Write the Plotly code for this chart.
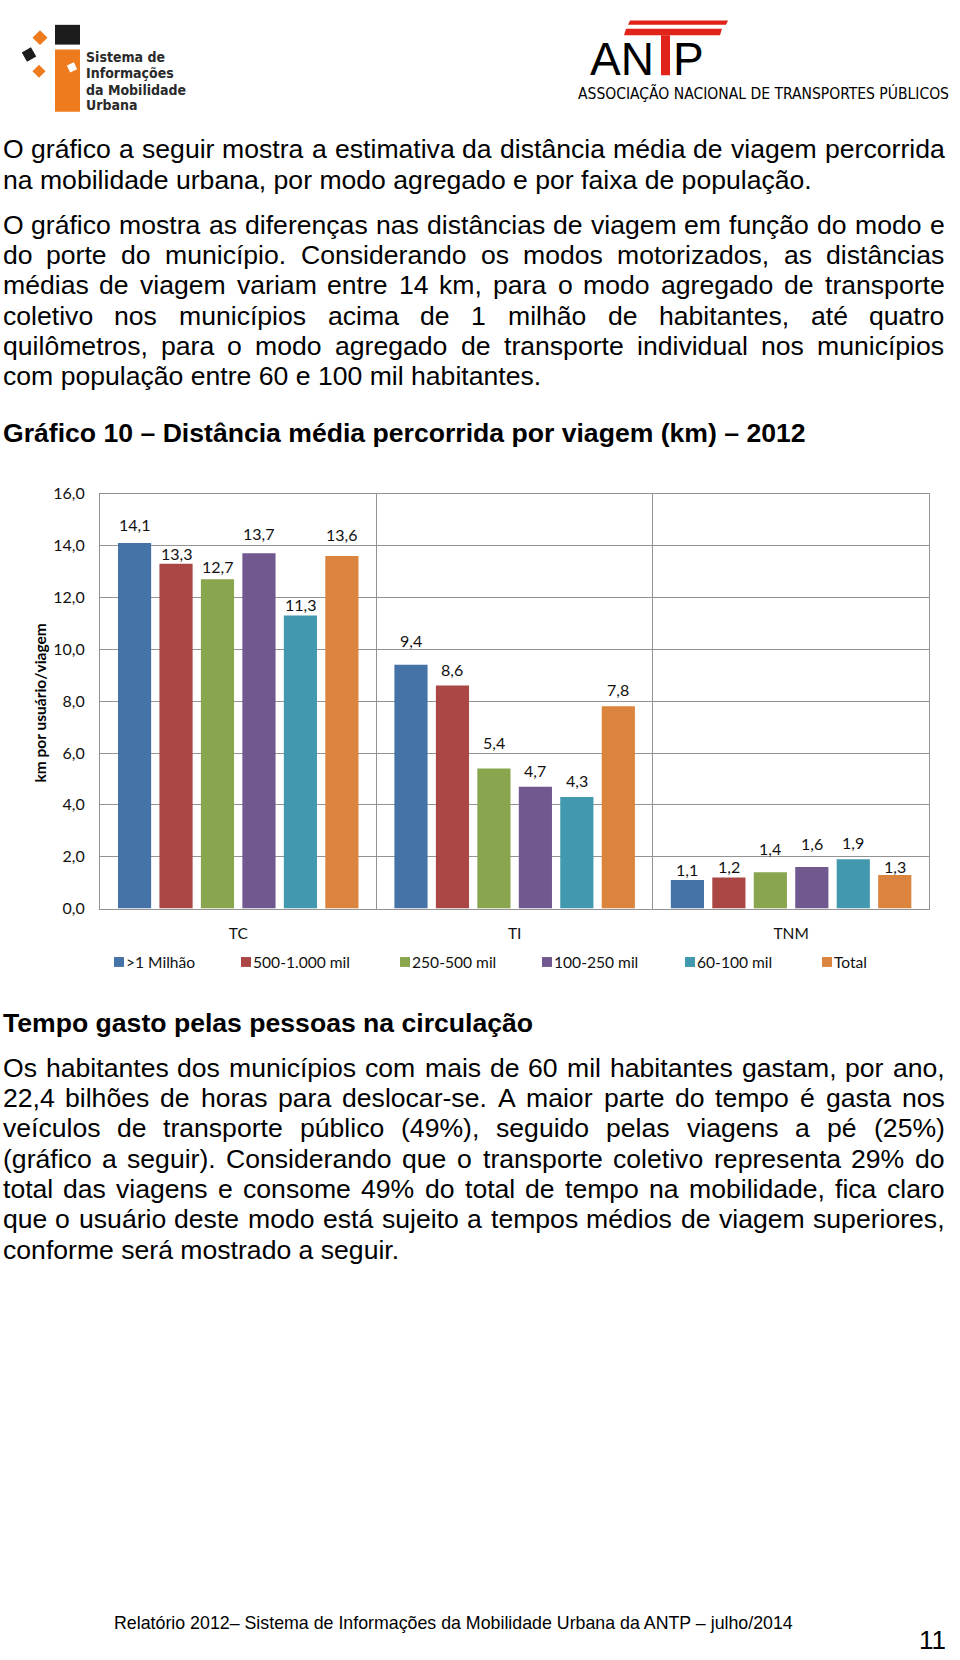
import math
import plotly.graph_objects as go

# ---------------- data ----------------
categories = ["TC", "TI", "TNM"]
series_names = [">1 Milhão", "500-1.000 mil", "250-500 mil", "100-250 mil", "60-100 mil", "Total"]
mil_1 = [14.1, 9.4, 1.1]
mil_500_1000 = [13.3, 8.6, 1.2]
mil_250_500 = [12.7, 5.4, 1.4]
mil_100_250 = [13.7, 4.7, 1.6]
mil_60_100 = [11.3, 4.3, 1.9]
total = [13.6, 7.8, 1.3]
series_values = [mil_1, mil_500_1000, mil_250_500, mil_100_250, mil_60_100, total]
series_colors = ["#4572A7", "#AA4643", "#89A54E", "#71588F", "#4198AF", "#DB843D"]
y_ticks = [0, 2, 4, 6, 8, 10, 12, 14, 16]

# style: how far (px) each value label sits above its bar, as placed in the original
label_lift = [[18, 24, 11], [10.5, 16.5, 11], [12.5, 26, 24], [20, 16.5, 23.5], [11, 17, 16.5],
              [21.5, 16.5, 8.5]]

W, H = 960, 1660


def px(x):
    return x / W


def py(y):
    return 1 - y / H


# Arial / Liberation Sans advance widths (per 1000 em)
AW = {' ': 278, '!': 278, '(': 333, ')': 333, ',': 278, '-': 333, '.': 278, '/': 278, '%': 889,
      '–': 556, ':': 278}
for d in "0123456789":
    AW[d] = 556
AW.update(dict(A=667, B=667, C=722, D=722, E=667, F=611, G=778, H=722, I=278, J=500, K=667, L=556,
               M=833, N=722, O=778, P=667, Q=778, R=722, S=667, T=611, U=722, V=667, W=944, X=667,
               Y=667, Z=611))
AW.update(dict(a=556, b=556, c=500, d=556, e=556, f=278, g=556, h=556, i=222, j=222, k=500, l=222,
               m=833, n=556, o=556, p=556, q=556, r=333, s=500, t=278, u=556, v=500, w=722, x=500,
               y=500, z=500))
for ch in "áâãàéêóôõú":
    AW[ch] = 556
AW['í'] = 278
AW['ç'] = 500


def tw(s, size):
    return sum(AW.get(c, 556) for c in s) / 1000.0 * size


BODY_FONT = "Liberation Sans, Arial, sans-serif"
COND_FONT = "Liberation Sans Narrow, Arial Narrow, DejaVu Sans Condensed, sans-serif"
BODY_SIZE = 26.6
LEFT, RIGHT = 2.5, 944.5

annotations = []
shapes = []


def label(text, x, y, size, family=BODY_FONT, color="#000000", xanchor="left", **kw):
    annotations.append(dict(text=text, x=px(x), y=py(y), xref="paper", yref="paper",
                            xanchor=xanchor, yanchor="middle", showarrow=False,
                            borderpad=0, borderwidth=0,
                            font=dict(family=family, size=size, color=color), **kw))


def text_line(s, y, justify, bold=False, size=BODY_SIZE, x=LEFT):
    if not justify or bold:
        label("<b>" + s + "</b>" if bold else s, x, y, size)
        return
    words = s.split(" ")
    widths = [tw(w, size) for w in words]
    gap = (RIGHT - LEFT - sum(widths)) / (len(words) - 1)
    cx = x
    for w, wd in zip(words, widths):
        label(w, cx, y, size)
        cx += wd + gap


para1 = [
    ("O gráfico a seguir mostra a estimativa da distância média de viagem percorrida", True),
    ("na mobilidade urbana, por modo agregado e por faixa de população.", False),
]
para2 = [
    ("O gráfico mostra as diferenças nas distâncias de viagem em função do modo e", True),
    ("do porte do município. Considerando os modos motorizados, as distâncias", True),
    ("médias de viagem variam entre 14 km, para o modo agregado de transporte", True),
    ("coletivo nos municípios acima de 1 milhão de habitantes, até quatro", True),
    ("quilômetros, para o modo agregado de transporte individual nos municípios", True),
    ("com população entre 60 e 100 mil habitantes.", False),
]
para3 = [
    ("Os habitantes dos municípios com mais de 60 mil habitantes gastam, por ano,", True),
    ("22,4 bilhões de horas para deslocar-se. A maior parte do tempo é gasta nos", True),
    ("veículos de transporte público (49%), seguido pelas viagens a pé (25%)", True),
    ("(gráfico a seguir). Considerando que o transporte coletivo representa 29% do", True),
    ("total das viagens e consome 49% do total de tempo na mobilidade, fica claro", True),
    ("que o usuário deste modo está sujeito a tempos médios de viagem superiores,", True),
    ("conforme será mostrado a seguir.", False),
]
LS = 30.7
for i, (s, j) in enumerate(para1):
    text_line(s, 141 + i * LS, j)
for i, (s, j) in enumerate(para2):
    text_line(s, 217 + i * LS, j)
text_line("Gráfico 10 – Distância média percorrida por viagem (km) – 2012", 427.5, False, bold=True)
text_line("Tempo gasto pelas pessoas na circulação", 1025, False, bold=True)
for i, (s, j) in enumerate(para3):
    text_line(s, 1070 + i * LS, j)

# footer
label("Relatório 2012– Sistema de Informações da Mobilidade Urbana da ANTP – julho/2014", 114, 1632, 17.8)
label("11", 919, 1649, 26)

# ---------------- logos ----------------
ORANGE = "#EE7B1E"
BLACK = "#1c1c1c"
RED = "#E2231A"


def rect(x0, y0, x1, y1, color):
    shapes.append(dict(type="rect", xref="paper", yref="paper", x0=px(x0), x1=px(x1),
                       y0=py(y1), y1=py(y0), fillcolor=color, line=dict(width=0), layer="above"))


def poly(points, color):
    p = "M " + " L ".join(f"{px(x):.5f},{py(y):.5f}" for x, y in points) + " Z"
    shapes.append(dict(type="path", xref="paper", yref="paper", path=p, fillcolor=color,
                       line=dict(width=0), layer="above"))


def diamond(cx, cy, r, color, tilt=0.0):
    pts = []
    for k in range(4):
        a = math.radians(tilt + 90 * k)
        pts.append((cx + r * math.cos(a), cy + r * math.sin(a)))
    poly(pts, color)


rect(55, 15, 80, 35, BLACK)
rect(55, 40, 80, 103, ORANGE)
diamond(72, 58, 5.5, "#ffffff", 20)
diamond(40, 28, 7.5, ORANGE, 0)
diamond(29, 45, 7.5, BLACK, 15)
diamond(39, 62, 6.5, ORANGE, 0)
for s, y in [("Sistema de", 47.5), ("Informações", 64), ("da Mobilidade", 80.5), ("Urbana", 96.5)]:
    label("<b>" + s + "</b>", 86, y, 14, family=COND_FONT, color="#2a2a2a")

# ANTP logo
poly([(630, 10.5), (728, 10.5), (726, 15), (628, 15)], RED)
poly([(626, 19), (722, 19), (720, 25.5), (624, 25.5)], RED)
rect(661, 25.5, 670, 66, RED)
label("AN", 590, 50, 46)
label("P", 673, 50, 46)
label("ASSOCIAÇÃO NACIONAL DE TRANSPORTES PÚBLICOS", 578, 84, 15.5, family=COND_FONT)

# ---------------- chart ----------------
CHART_FONT = "Lato, Carlito, Calibri, sans-serif"
PL, PR, PT, PB = 100, 929.3, 489.3, 909
BARGAP, GROUPGAP = 0.1, 0.2
GRID = "#939393"

fig = go.Figure()
for name, vals, col in zip(series_names, series_values, series_colors):
    fig.add_trace(go.Bar(x=categories, y=vals, name=name, marker=dict(color=col, line=dict(width=0)),
                         showlegend=False, hoverinfo="skip"))

# value labels: anchored on each bar's value, shifted to the bar's slot inside the group
slot_px = (PR - PL) / len(categories) * (1 - BARGAP) / len(series_names)
for k, (vals, lifts) in enumerate(zip(series_values, label_lift)):
    for cat, v, lift in zip(categories, vals, lifts):
        annotations.append(dict(text=f"{v:.1f}".replace(".", ","), x=cat, y=v, xref="x", yref="y",
                                xshift=(k - (len(series_names) - 1) / 2) * slot_px, yshift=lift,
                                xanchor="center", yanchor="middle", showarrow=False,
                                font=dict(family=CHART_FONT, size=16, color="#111111")))

# Excel-style legend: small square with the text right next to it
leg_x = [114, 241, 400, 542, 685, 822]
for name, col, lx in zip(series_names, series_colors, leg_x):
    rect(lx, 958, lx + 10, 968, col)
    label(name, lx + 12, 963.5, 15.6, family=CHART_FONT, color="#111111")

annotations.append(dict(text="<b>km por usuário/viagem</b>", textangle=-90, x=px(39.5), y=py(701),
                        xref="paper", yref="paper", xanchor="center", yanchor="middle",
                        showarrow=False, font=dict(family=CHART_FONT, size=15.5, color="#000000")))

fig.update_layout(
    width=W, height=H, autosize=False,
    margin=dict(l=0, r=0, t=0, b=0, pad=0),
    paper_bgcolor="#ffffff", plot_bgcolor="#ffffff",
    separators=",.",
    barmode="group", bargap=BARGAP, bargroupgap=GROUPGAP,
    showlegend=False,
    xaxis=dict(domain=[px(PL), px(PR)], type="category", tickson="boundaries", showgrid=True,
               gridcolor=GRID, gridwidth=1, showline=True, linecolor=GRID, linewidth=1, mirror=True,
               ticks="", ticklabelstandoff=11, zeroline=False,
               tickfont=dict(family=CHART_FONT, size=15.5, color="#111111")),
    yaxis=dict(domain=[py(PB), py(PT)], range=[0, 16], tickvals=y_ticks, tickformat=".1f",
               showgrid=True, gridcolor=GRID, gridwidth=1, showline=True, linecolor=GRID,
               linewidth=1, mirror=True, ticks="", ticklabelstandoff=11, zeroline=False,
               tickfont=dict(family=CHART_FONT, size=16, color="#111111")),
    annotations=annotations, shapes=shapes,
)

fig.write_html("out.html", config={"displayModeBar": False},
               post_script="document.body.style.margin='0px';")
